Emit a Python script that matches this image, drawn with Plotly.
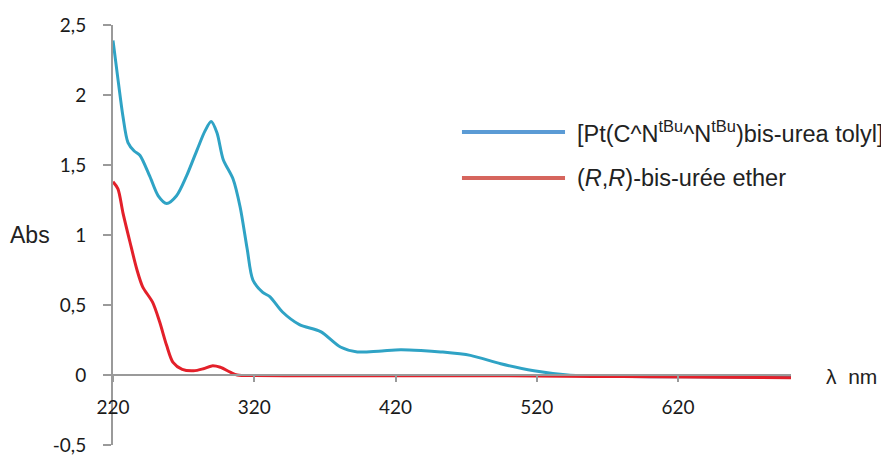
import plotly.graph_objects as go

# Blue series: [Pt(C^N^tBu^N^tBu)bis-urea tolyl]
wl_blue = [220, 223.8, 227, 230.6, 235, 239, 246, 252, 258, 265, 272, 279.6, 285, 289.5,
           293.6, 298, 305, 310, 315, 319, 326, 331, 340, 352, 367, 381, 393, 408, 423.5,
           438, 452, 473, 494.5, 518, 542, 570, 600, 650, 700]
abs_blue = [2.39, 2.09, 1.85, 1.66, 1.60, 1.57, 1.42, 1.28, 1.225, 1.28, 1.42, 1.61, 1.74, 1.81,
            1.73, 1.54, 1.40, 1.20, 0.90, 0.68, 0.59, 0.56, 0.45, 0.36, 0.31, 0.20, 0.165, 0.17, 0.18,
            0.175, 0.165, 0.14, 0.08, 0.03, 0.0, -0.008, -0.012, -0.014, -0.016]

# Red series: (R,R)-bis-urée ether
wl_red = [220, 223.5, 227, 232, 237, 241, 248, 253, 258, 262.5, 269, 277, 284, 290, 296, 303,
          308, 320, 360, 400, 440, 480, 520, 560, 600, 650, 700]
abs_red = [1.38, 1.33, 1.16, 0.95, 0.75, 0.63, 0.52, 0.38, 0.21, 0.09, 0.04, 0.03, 0.045, 0.065,
           0.055, 0.02, 0.0, -0.004, -0.005, -0.005, -0.006, -0.005, -0.007, -0.01, -0.012, -0.016, -0.02]

x_ticks = [220, 320, 420, 520, 620]
y_ticks = [-0.5, 0, 0.5, 1, 1.5, 2, 2.5]
y_tick_text = ["-0,5", "0", "0,5", "1", "1,5", "2", "2,5"]

series_names = ["[Pt(C^N<sup>tBu</sup>^N<sup>tBu</sup>)bis-urea tolyl]",
                "(<i>R</i>,<i>R</i>)-bis-urée ether"]
curve_colors = ["#2fa3c5", "#e3202a"]
legend_colors = ["#5b9bd5", "#d6655d"]

fig = go.Figure()
fig.add_trace(go.Scatter(x=wl_blue, y=abs_blue, mode="lines", showlegend=False,
                         line=dict(color=curve_colors[0], width=3, shape="spline", smoothing=0.8)))
fig.add_trace(go.Scatter(x=wl_red, y=abs_red, mode="lines", showlegend=False,
                         line=dict(color=curve_colors[1], width=3, shape="spline", smoothing=0.8)))

axis_col = "#9a9a9a"
tick_font = dict(family="Lato, Liberation Sans, Arial", size=19, color="#1a1a1a")
fig.update_layout(
    width=881, height=449,
    margin=dict(l=105, r=98, t=17, b=12, autoexpand=False),
    plot_bgcolor="white", paper_bgcolor="white",
    font=dict(family="Lato, Liberation Sans, Arial", size=19, color="#1a1a1a"),
    xaxis=dict(range=[220, 700], anchor="free", position=1/6,
               showline=True, linecolor=axis_col, linewidth=2,
               ticks="outside", ticklen=6, tickwidth=2, tickcolor=axis_col,
               tickvals=x_ticks, ticktext=[str(v) for v in x_ticks],
               ticklabelstandoff=9,
               showgrid=False, zeroline=False, tickfont=tick_font),
    yaxis=dict(range=[-0.5, 2.5], showline=True, linecolor=axis_col, linewidth=2,
               ticks="outside", ticklen=8, tickwidth=2, tickcolor=axis_col,
               tickvals=y_ticks, ticktext=y_tick_text,
               ticklabelstandoff=13,
               showgrid=False, zeroline=False, tickfont=tick_font),
)

# legend drawn manually
leg_y = [0.745, 0.636]
for i in range(2):
    fig.add_shape(type="line", xref="paper", yref="paper", x0=0.5147, x1=0.6667,
                  y0=leg_y[i], y1=leg_y[i], line=dict(color=legend_colors[i], width=4))
    fig.add_annotation(xref="paper", yref="paper", x=0.682, y=leg_y[i], text=series_names[i],
                       showarrow=False, xanchor="left", yanchor="middle",
                       font=dict(family="Liberation Sans, Arial", size=23.5, color="#222"))

fig.add_annotation(xref="paper", yref="paper", x=-0.1224, y=0.5, text="Abs", showarrow=False,
                   xanchor="center", yanchor="middle",
                   font=dict(family="Liberation Sans, Arial", size=23, color="#222"))
fig.add_annotation(xref="paper", yref="paper", x=1.0885, y=0.164, text="λ  nm", showarrow=False,
                   xanchor="center", yanchor="middle",
                   font=dict(family="Liberation Sans, Arial", size=21, color="#222"))

fig.write_html("out.html")
